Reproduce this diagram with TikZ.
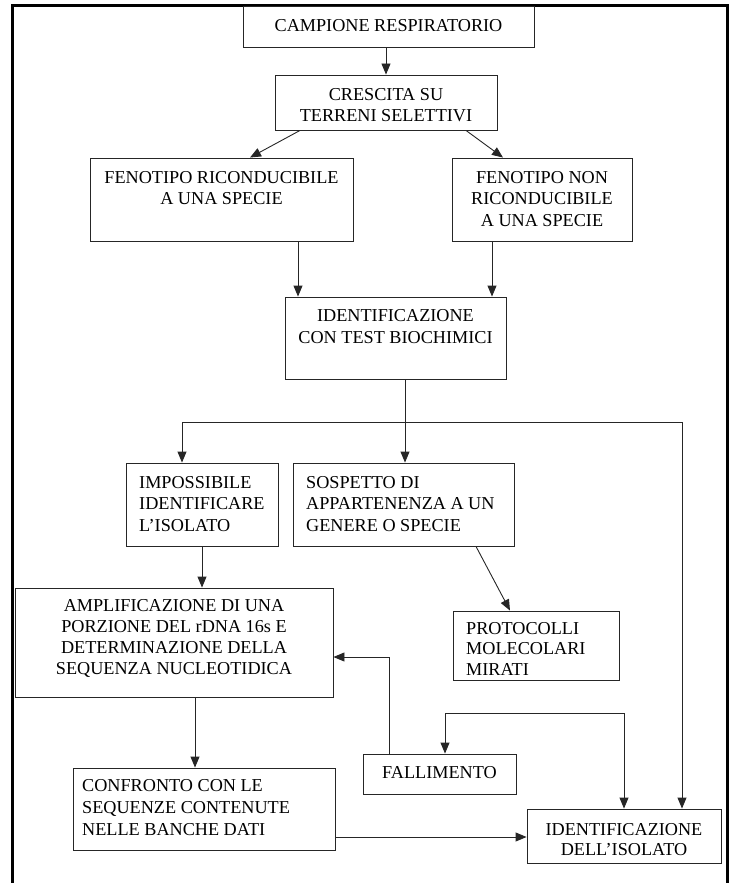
\documentclass[tikz,border=0pt]{standalone}
\usepackage{fontspec}
\setmainfont{Liberation Serif}
\usetikzlibrary{arrows.meta}
\begin{document}
\begin{tikzpicture}[x=1pt,y=-1pt,
  box/.style={draw=black!85, line width=0.9pt, inner sep=0pt},
  txt/.style={inner sep=0pt, anchor=north, align=center, font=\fontsize{18.2}{21.5}\selectfont},
  ltxt/.style={txt, anchor=north west, align=left},
  arr/.style={draw=black!85, line width=0.9pt, -{Triangle[length=11pt,width=9pt]}},
  ln/.style={draw=black!85, line width=0.9pt}]
\useasboundingbox (0,0) rectangle (731,883);
\draw[line width=3pt] (12.5,883) -- (12.5,6) -- (727.5,6) -- (727.5,883);

% boxes
\node[box, minimum width=291, minimum height=41] (camp) at (388.5,26.5) {};
\node[box, minimum width=222, minimum height=55] (cresc) at (386,102.5) {};
\node[box, minimum width=263, minimum height=83] (fen1) at (221.5,199.5) {};
\node[box, minimum width=180, minimum height=83] (fen2) at (542,199.5) {};
\node[box, minimum width=221, minimum height=82] (idtest) at (395.5,338) {};
\node[box, minimum width=152, minimum height=83] (imp) at (202,504.5) {};
\node[box, minimum width=221, minimum height=83] (sosp) at (403.5,504.5) {};
\node[box, minimum width=318, minimum height=109] (ampl) at (174,642.5) {};
\node[box, minimum width=166, minimum height=69] (prot) at (536,645.5) {};
\node[box, minimum width=153, minimum height=40] (fall) at (439.5,774) {};
\node[box, minimum width=262, minimum height=82] (conf) at (204,809) {};
\node[box, minimum width=194, minimum height=54] (ident) at (624,836) {};

% texts
\node[txt] (tcamp) at (388.5,19) {CAMPIONE RESPIRATORIO};
\node[txt] (tcresc) at (386,88) {CRESCITA SU\\TERRENI SELETTIVI};
\node[txt] (tfen1) at (221.5,171) {FENOTIPO RICONDUCIBILE\\A UNA SPECIE};
\node[txt] (tfen2) at (542,171) {FENOTIPO NON\\RICONDUCIBILE\\A UNA SPECIE};
\node[txt, font=\fontsize{18.2}{22}\selectfont] (tidtest) at (395.5,309) {IDENTIFICAZIONE\\CON TEST BIOCHIMICI};
\node[ltxt] (timp) at (139,476) {IMPOSSIBILE\\IDENTIFICARE\\L’ISOLATO};
\node[ltxt] (tsosp) at (306,476) {SOSPETTO DI\\APPARTENENZA A UN\\GENERE O SPECIE};
\node[txt, font=\fontsize{18.2}{21}\selectfont] (tampl) at (174,599) {AMPLIFICAZIONE DI UNA\\PORZIONE DEL rDNA 16s E\\DETERMINAZIONE DELLA\\SEQUENZA NUCLEOTIDICA};
\node[ltxt, font=\fontsize{18.2}{20.5}\selectfont] (tprot) at (466,622) {PROTOCOLLI\\MOLECOLARI\\MIRATI};
\node[txt] (tfall) at (439.5,766) {FALLIMENTO};
\node[ltxt, font=\fontsize{18.2}{22}\selectfont] (tconf) at (82,779) {CONFRONTO CON LE\\SEQUENZE CONTENUTE\\NELLE BANCHE DATI};
\node[txt, font=\fontsize{18.2}{20}\selectfont] (tident) at (624,823) {IDENTIFICAZIONE\\DELL’ISOLATO};

% connectors
\draw[arr] (camp.south -| cresc.north) -- (cresc.north);
\draw[arr] (300,0 |- cresc.south) -- (250,0 |- fen1.north);
\draw[arr] (466,0 |- cresc.south) -- (503,0 |- fen2.north);
\draw[arr] (298,0 |- fen1.south) -- (298,0 |- idtest.north);
\draw[arr] (492,0 |- fen2.south) -- (492,0 |- idtest.north);

\coordinate (j) at (405,422);
\coordinate (jl) at (182,422);
\coordinate (jr) at (682,422);
\draw[ln] (j |- idtest.south) -- (j);
\draw[ln] (jl) -- (jr);
\draw[arr] (jl) -- (jl |- imp.north);
\draw[arr] (j) -- (j |- sosp.north);
\draw[arr] (jr) -- (jr |- ident.north);

\draw[arr] (imp.south) -- (imp.south |- ampl.north);
\draw[arr] (476,0 |- sosp.south) -- (510,0 |- prot.north);
\draw[arr] (195,0 |- ampl.south) -- (195,0 |- conf.north);

\coordinate (fb) at (389,657);
\draw[arr] (fb |- fall.north) -- (fb) -- (fb -| ampl.east);

\coordinate (bl) at (445,713);
\coordinate (br) at (624,713);
\draw[arr] (br) -- (bl) -- (bl |- fall.north);
\draw[arr] (br) -- (br |- ident.north);

\coordinate (ch) at (0,837);
\draw[arr] (conf.east |- ch) -- (ident.west |- ch);
\end{tikzpicture}
\end{document}
